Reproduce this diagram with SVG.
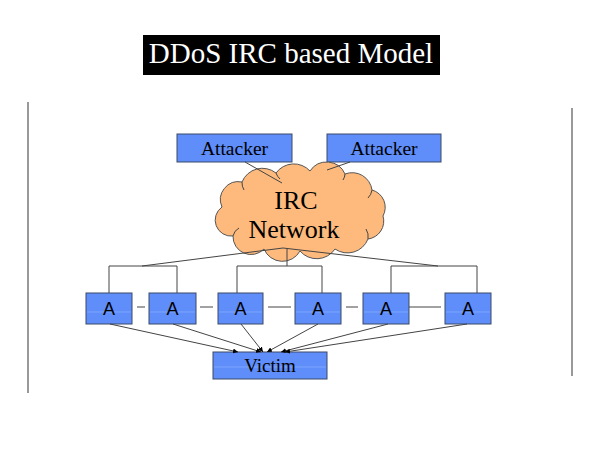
<svg xmlns="http://www.w3.org/2000/svg" width="600" height="450" viewBox="0 0 600 450">
<defs>
<style>
.box{fill:#5f8df9;stroke:#3a4a6a;stroke-width:1}
.sheen{stroke:#7fa6ff;stroke-width:1}
.serif{font-family:"Liberation Serif","Times New Roman",serif;fill:#000}
.sans{font-family:"Liberation Sans",Arial,sans-serif;fill:#000}
.ln{stroke:#444;stroke-width:1;fill:none}
.arr{stroke:#444;stroke-width:1;fill:none;marker-end:url(#ah)}
</style>
<marker id="ah" viewBox="0 0 10 10" refX="10" refY="5" markerWidth="5" markerHeight="5" markerUnits="userSpaceOnUse" orient="auto">
<path d="M0,0 L10,5 L0,10 z" fill="#000"/>
</marker>
</defs>
<rect width="600" height="450" fill="#fff"/>
<g id="title">
<rect x="143" y="35" width="297" height="40" fill="#000"/>
<text x="291" y="63" class="serif" style="fill:#fff" font-size="29" text-anchor="middle">DDoS IRC based Model</text>
</g>
<g id="frame">
<line x1="28" y1="102" x2="28" y2="393" stroke="#555" stroke-width="1.2"/>
<line x1="572" y1="108" x2="572" y2="376" stroke="#555" stroke-width="1.2"/>
</g>
<g id="attacker1">
<rect x="177" y="134" width="115" height="28" class="box"/>
<text x="234.5" y="155" class="serif" font-size="19.5" text-anchor="middle">Attacker</text>
</g>
<g id="attacker2">
<rect x="327" y="134" width="114" height="28" class="box"/>
<text x="384" y="155" class="serif" font-size="19.5" text-anchor="middle">Attacker</text>
</g>
<g id="irc">
<path d="M222,207 A18,18 0 0 1 242,182 A22,22 0 0 1 276,173 A22,22 0 0 1 310,171 A20,20 0 0 1 345,174 A20,20 0 0 1 372,190 A18,18 0 0 1 383,216 A18,18 0 0 1 368,239 A22,22 0 0 1 335,249 A22,22 0 0 1 300,251 A20,20 0 0 1 264,249 A18,18 0 0 1 233,236 A16,16 0 0 1 222,207 Z" fill="#fdba7c" stroke="#555" stroke-width="1"/>
<path d="M242,182 a14,14 0 0 0 2,8 M276,173 a14,14 0 0 0 4,6 M345,174 a12,12 0 0 1 -2,6 M372,190 a14,14 0 0 1 -4,8 M368,239 a14,14 0 0 0 -2,-10 M233,236 a12,12 0 0 1 6,-8" class="ln" stroke="#666"/>
<text x="296" y="209" class="serif" font-size="26" text-anchor="middle">IRC</text>
<text x="294" y="238" class="serif" font-size="26" text-anchor="middle">Network</text>
</g>
<g id="a1">
<rect x="86" y="293" width="46" height="31" class="box"/>
<line x1="87" y1="312" x2="131" y2="312" class="sheen"/>
<text x="109" y="315" class="sans" font-size="18" text-anchor="middle">A</text>
</g>
<g id="a2">
<rect x="149" y="293" width="47" height="31" class="box"/>
<line x1="150" y1="312" x2="195" y2="312" class="sheen"/>
<text x="172.5" y="315" class="sans" font-size="18" text-anchor="middle">A</text>
</g>
<g id="a3">
<rect x="218" y="293" width="45" height="31" class="box"/>
<line x1="219" y1="312" x2="262" y2="312" class="sheen"/>
<text x="240.5" y="315" class="sans" font-size="18" text-anchor="middle">A</text>
</g>
<g id="a4">
<rect x="295" y="293" width="46" height="31" class="box"/>
<line x1="296" y1="312" x2="340" y2="312" class="sheen"/>
<text x="318" y="315" class="sans" font-size="18" text-anchor="middle">A</text>
</g>
<g id="a5">
<rect x="363" y="293" width="46" height="31" class="box"/>
<line x1="364" y1="312" x2="408" y2="312" class="sheen"/>
<text x="386" y="315" class="sans" font-size="18" text-anchor="middle">A</text>
</g>
<g id="a6">
<rect x="445" y="293" width="46" height="31" class="box"/>
<line x1="446" y1="312" x2="490" y2="312" class="sheen"/>
<text x="468" y="315" class="sans" font-size="18" text-anchor="middle">A</text>
</g>
<g id="victim">
<rect x="213" y="352" width="114" height="27" class="box"/>
<line x1="214" y1="367" x2="326" y2="367" class="sheen"/>
<text x="270" y="372" class="serif" font-size="19" text-anchor="middle">Victim</text>
</g>
<g id="connectors">
<line x1="245" y1="162" x2="282" y2="183" class="ln"/>
<line x1="350" y1="162" x2="327" y2="170" class="ln"/>
<line x1="283" y1="248" x2="142" y2="266" class="ln"/>
<line x1="287" y1="249" x2="287" y2="266" class="ln"/>
<line x1="283" y1="248" x2="438" y2="266" class="ln"/>
<polyline points="109,293 109,266 177,266 177,293" class="ln"/>
<polyline points="237,293 237,266 322,266 322,293" class="ln"/>
<polyline points="391,293 391,266 477,266 477,293" class="ln"/>
<line x1="137" y1="307" x2="145" y2="307" class="ln"/>
<line x1="200" y1="307" x2="213" y2="307" class="ln"/>
<line x1="268" y1="307" x2="291" y2="307" class="ln"/>
<line x1="346" y1="307" x2="358" y2="307" class="ln"/>
<line x1="409" y1="307" x2="441" y2="307" class="ln"/>
<line x1="110" y1="324" x2="238" y2="352" class="arr"/>
<line x1="173" y1="324" x2="261" y2="352" class="arr"/>
<line x1="241" y1="324" x2="263" y2="352" class="arr"/>
<line x1="318" y1="324" x2="267" y2="352" class="arr"/>
<line x1="388" y1="324" x2="281" y2="352" class="arr"/>
<line x1="467" y1="324" x2="285" y2="352" class="arr"/>
</g>
</svg>
